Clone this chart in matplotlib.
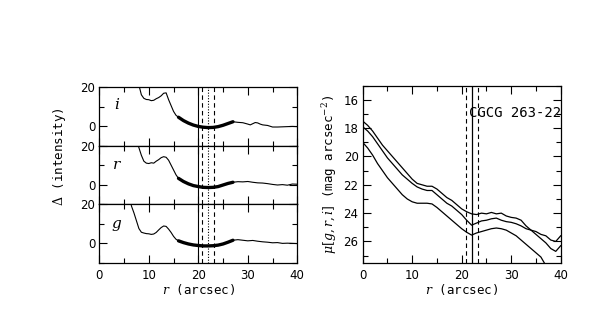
import numpy as np
import matplotlib
matplotlib.use("Agg")
import matplotlib.pyplot as plt
from matplotlib.ticker import MultipleLocator, FixedLocator

plt.rcParams['font.family'] = ['DejaVu Sans']
plt.rcParams['mathtext.fontset'] = 'dejavuserif'
plt.rcParams['font.size'] = 8.5

# residual intensity profiles (left panels)
band_names = ["i", "r", "g"]
r_i = [7, 8, 8.5, 9, 9.5, 10, 10.5, 11, 11.5, 12, 12.5, 13, 13.5, 14, 14.5, 15, 15.5,
       16, 17, 18, 19, 20, 21, 22, 23, 24, 25, 26, 27, 28, 29, 30, 30.5, 31, 31.5,
       32, 32.5, 33, 34, 35, 36, 37, 38, 39, 40]
d_i = [30, 21, 16, 14.2, 13.6, 13.5, 13.0, 13.2, 14.0, 14.6, 15.5, 16.8, 17.0, 13.5, 10.5,
       7.5, 5.5, 4.5, 2.8, 1.5, 0.5, -0.2, -0.6, -0.8, -0.7, -0.3, 0.4, 1.3, 2.2, 1.9, 1.7,
       1.0, 0.6, 1.2, 1.8, 1.6, 1.0, 0.6, 0.3, -0.5, -0.5, -0.4, -0.3, -0.2, -0.3]
r_r = [7, 7.8, 8.5, 9, 9.5, 10, 10.5, 11, 11.5, 12, 12.5, 13, 13.5, 14, 14.5, 15, 15.5,
       16, 17, 18, 19, 20, 21, 22, 23, 24, 25, 26, 27, 28, 29, 30, 31, 32, 33, 34, 35,
       36, 37, 38, 39, 40]
d_r = [30, 20.5, 15, 12, 11, 10.8, 11.2, 11.0, 12.0, 12.8, 13.8, 14.3, 14.0, 12.5, 10,
       7.5, 5, 3.2, 1.6, 0.4, -0.5, -1.0, -1.4, -1.5, -1.4, -1.0, -0.2, 0.6, 1.2, 1.5,
       1.4, 1.6, 1.2, 0.9, 0.8, 0.5, 0.1, -0.2, 0.0, -0.3, 0.3, 0.2]
r_g = [6, 6.5, 7, 7.5, 8, 8.5, 9, 9.5, 10, 10.5, 11, 11.5, 12, 12.5, 13, 13.5, 14, 14.5,
       15, 15.5, 16, 17, 18, 19, 20, 21, 22, 23, 24, 25, 26, 27, 28, 29, 30, 31, 32, 33,
       34, 35, 36, 37, 38, 39, 40]
d_g = [25, 19, 15.5, 11.5, 7.5, 5.6, 5.2, 4.9, 4.8, 4.5, 4.7, 5.5, 6.8, 8.0, 8.8, 8.6,
       7.2, 5.5, 3.5, 2.0, 1.2, 0.3, -0.4, -0.9, -1.2, -1.4, -1.4, -1.3, -1.0, -0.4, 0.5,
       1.5, 1.8, 1.5, 1.2, 1.4, 1.0, 0.7, 0.5, 0.2, 0.3, -0.1, 0.0, -0.1, -0.2]
fit_range = (16, 27)
label_y = [11, 10.5, 9]

# surface brightness profiles (right panel)
r_mu = list(range(0, 41))
mu_i = [17.5, 17.8, 18.2, 18.7, 19.2, 19.6, 20.0, 20.4, 20.8, 21.2, 21.6, 21.9, 22.0,
        22.1, 22.1, 22.3, 22.6, 22.9, 23.1, 23.4, 23.7, 23.9, 24.05, 24.1, 24.0, 24.05,
        23.95, 24.05, 24.0, 24.2, 24.3, 24.35, 24.5, 24.9, 25.2, 25.3, 25.5, 25.6, 25.9,
        26.0, 25.6]
mu_r = [17.9, 18.2, 18.6, 19.1, 19.6, 20.1, 20.5, 20.9, 21.3, 21.6, 21.9, 22.15, 22.3,
        22.4, 22.4, 22.7, 23.0, 23.3, 23.5, 23.8, 24.1, 24.5, 24.85, 24.7, 24.55, 24.5,
        24.4, 24.35, 24.5, 24.6, 24.65, 24.75, 24.9, 25.1, 25.2, 25.5, 25.8, 26.1, 26.5,
        26.7, 26.3]
mu_g = [19.0, 19.4, 19.9, 20.5, 21.0, 21.5, 21.9, 22.3, 22.7, 23.0, 23.2, 23.3, 23.3,
        23.3, 23.35, 23.6, 23.9, 24.2, 24.5, 24.8, 25.1, 25.35, 25.55, 25.4, 25.3, 25.2,
        25.1, 25.05, 25.1, 25.2, 25.4, 25.6, 25.9, 26.2, 26.5, 26.8, 27.1, 27.7]

# marker radii
r_solid_left = 20.0
r_dotted_left = 22.0
r_dashed = [20.8, 23.2]
r_solid_right = 22.0
galaxy = "CGCG 263-22"

LABEL_FONT = dict(family='DejaVu Sans Mono', fontsize=9)


def style_axis(ax):
    ax.tick_params(which='both', direction='in', top=True, right=True, width=0.8)
    ax.tick_params(which='major', length=6)
    ax.tick_params(which='minor', length=3.5)
    for s in ax.spines.values():
        s.set_linewidth(0.9)


fig = plt.figure(figsize=(5.98, 3.18), dpi=100)

x0, x1 = 99.3 / 598, 297.3 / 598
top, bot = 1 - 87 / 318, 1 - 262.7 / 318
h = (top - bot) / 3
profiles = [(r_i, d_i), (r_r, d_r), (r_g, d_g)]
for k, (rr, dd) in enumerate(profiles):
    ax = fig.add_axes([x0, top - (k + 1) * h, x1 - x0, h])
    rr = np.array(rr)
    dd = np.array(dd)
    ax.plot(rr, dd, color='black', lw=0.8)
    m = (rr >= fit_range[0]) & (rr <= fit_range[1])
    ax.plot(rr[m], dd[m], color='black', lw=2.4, solid_capstyle='round')
    ax.axvline(r_solid_left, color='black', lw=0.8)
    ax.axvline(r_dotted_left, color='black', lw=0.8, ls=(0, (1, 1.5)))
    for rd in r_dashed:
        ax.axvline(rd, color='black', lw=0.8, ls=(0, (4, 3)))
    ax.text(3.5, label_y[k], '$' + band_names[k] + '$', fontsize=11,
            ha='center', va='center')
    ax.set_xlim(0, 40)
    ax.set_ylim(-10, 20)
    ax.yaxis.set_major_locator(FixedLocator([0, 20]))
    ax.yaxis.set_minor_locator(FixedLocator([-10, 10]))
    ax.xaxis.set_major_locator(MultipleLocator(10))
    ax.xaxis.set_minor_locator(MultipleLocator(5))
    style_axis(ax)
    ax.tick_params(axis='y', pad=3)
    if k < 2:
        ax.tick_params(labelbottom=False)
    else:
        ax.tick_params(axis='x', pad=4.5)
        ax.set_xlabel(r'$r$ (arcsec)', labelpad=0, **LABEL_FONT)

fig.text(60 / 598, 1 - 157 / 318, r'$\Delta$ (intensity)', rotation=90,
         ha='center', va='center', **LABEL_FONT)

ax2 = fig.add_axes([362.7 / 598, bot, (560.7 - 362.7) / 598, top - bot + 1.3 / 318])
for mu in (mu_i, mu_r, mu_g):
    ax2.plot(r_mu[:len(mu)], mu, color='black', lw=0.9)
ax2.axvline(r_solid_right, color='black', lw=0.9)
for rd in r_dashed:
    ax2.axvline(rd, color='black', lw=0.8, ls=(0, (4, 3)))
ax2.text(21.4, 16.95, galaxy, family='DejaVu Sans Mono', fontsize=10,
         ha='left', va='center', clip_on=False)
ax2.set_xlim(0, 40)
ax2.set_ylim(27.5, 15)
ax2.yaxis.set_major_locator(MultipleLocator(2))
ax2.yaxis.set_minor_locator(MultipleLocator(1))
ax2.xaxis.set_major_locator(MultipleLocator(10))
ax2.xaxis.set_minor_locator(MultipleLocator(5))
style_axis(ax2)
ax2.tick_params(axis='x', pad=4.5)
ax2.tick_params(axis='y', pad=3)
ax2.set_xlabel(r'$r$ (arcsec)', labelpad=0, **LABEL_FONT)
ax2.set_ylabel(r'$\mu[g,r,i]$ (mag arcsec$^{-2}$)', labelpad=3, **LABEL_FONT)

fig.savefig("out.png", dpi=100)
